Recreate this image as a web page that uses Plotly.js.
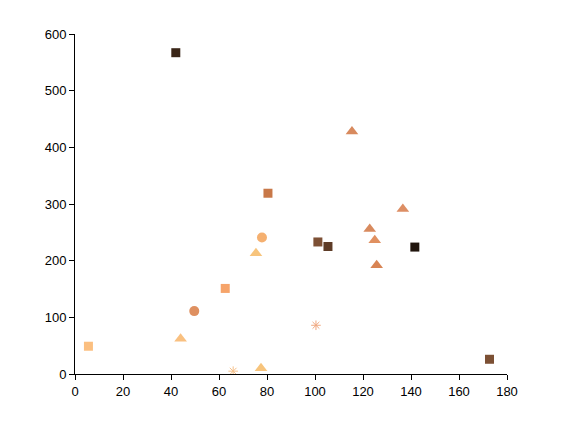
<!DOCTYPE html>
<html>
<head>
<meta charset="utf-8">
<script src="https://cdn.plot.ly/plotly-3.0.1.min.js"></script>
<style>html,body{margin:0;padding:0;background:#fff;}#chart{width:562px;height:422px;}</style>
</head>
<body>
<div id="chart"></div>
<script>
// Squares
const sqX = [42, 5.6, 62.6, 80.4, 101.2, 105.4, 141.6, 172.7];
const sqY = [567, 49, 151, 319, 233, 225, 224, 26];
const sqC = ['#3a2618', '#fbbf80', '#f6a46a', '#c87848', '#7d5035', '#5e3c27', '#20150d', '#7c5034'];
// Triangles
const triX = [44, 77.5, 75.4, 115.4, 122.8, 124.9, 125.7, 136.6];
const triY = [62, 10, 213, 428, 256, 236, 192, 291];
const triC = ['#f9c080', '#f7c47c', '#f7c47c', '#d88a5e', '#d88a5e', '#e09060', '#d88454', '#dd8e64'];
// Circles
const cirX = [49.7, 77.9];
const cirY = [111, 241];
const cirC = ['#df9060', '#f5b070'];
// Asterisks
const astX = [65.9, 100.4];
const astY = [5, 86];
const astC = ['#f5c08a', '#f0a880'];

const traces = [
  {x: sqX, y: sqY, type: 'scatter', mode: 'markers', marker: {symbol: 'square', size: 9, color: sqC}},
  {x: triX, y: triY, type: 'scatter', mode: 'markers', marker: {symbol: 'triangle-up', size: 11, color: triC}},
  {x: cirX, y: cirY, type: 'scatter', mode: 'markers', marker: {symbol: 'circle', size: 10, color: cirC}},
  {x: astX, y: astY, type: 'scatter', mode: 'markers', marker: {symbol: 'asterisk-open', size: 8, color: astC, line: {color: astC, width: 1}}}
];

const axisCommon = {
  showgrid: false, zeroline: false, showline: true, linecolor: '#000', linewidth: 1,
  ticks: 'outside', ticklen: 5, tickcolor: '#000', tickwidth: 1,
  tickfont: {family: 'Liberation Sans, Arial, sans-serif', size: 13, color: '#000'}
};

const layout = {
  width: 562, height: 422,
  paper_bgcolor: '#fff', plot_bgcolor: '#fff',
  showlegend: false,
  margin: {l: 74.5, r: 54.5, t: 34, b: 48.3, pad: 0},
  xaxis: Object.assign({}, axisCommon, {range: [0, 180], dtick: 20, tick0: 0}),
  yaxis: Object.assign({}, axisCommon, {range: [0, 600], dtick: 100, tick0: 0})
};

Plotly.newPlot('chart', traces, layout, {displayModeBar: false, staticPlot: true});
</script>
</body>
</html>
